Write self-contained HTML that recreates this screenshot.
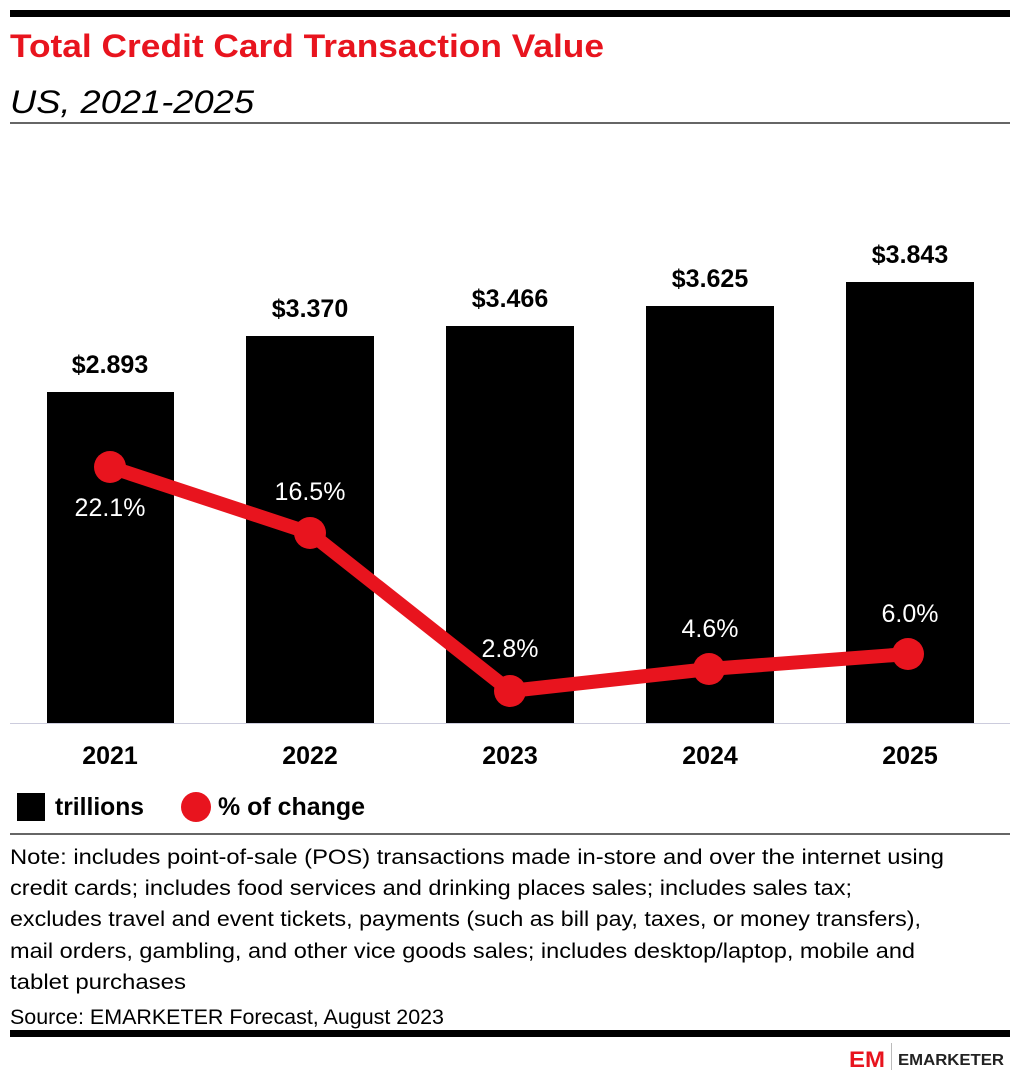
<!DOCTYPE html>
<html><head><meta charset="utf-8"><style>
body{margin:0;background:#fff;width:1020px;height:1080px;overflow:hidden;font-family:"Liberation Sans",sans-serif}
</style></head><body>
<svg width="1020" height="1080" viewBox="0 0 1020 1080" xmlns="http://www.w3.org/2000/svg" font-family="Liberation Sans, sans-serif">
<rect x="10" y="10" width="1000" height="7" fill="#000"/>
<text x="10" y="57" font-size="32" font-weight="bold" fill="#e8141e" textLength="594" lengthAdjust="spacingAndGlyphs">Total Credit Card Transaction Value</text>
<text x="10" y="113" font-size="32" font-style="italic" fill="#000" textLength="244" lengthAdjust="spacingAndGlyphs">US, 2021-2025</text>
<rect x="10" y="122" width="1000" height="2" fill="#666"/>
<g fill="#000">
<rect x="47" y="392" width="127" height="332"/>
<rect x="246" y="336" width="128" height="388"/>
<rect x="446" y="326" width="128" height="398"/>
<rect x="646" y="306" width="128" height="418"/>
<rect x="846" y="282" width="128" height="442"/>
</g>
<rect x="10" y="723" width="1000" height="1" fill="#ccd"/>
<g font-size="25" font-weight="bold" text-anchor="middle" fill="#000">
<text x="110" y="373">$2.893</text>
<text x="310" y="317">$3.370</text>
<text x="510" y="307">$3.466</text>
<text x="710" y="287">$3.625</text>
<text x="910" y="263">$3.843</text>
<text x="110" y="764">2021</text>
<text x="310" y="764">2022</text>
<text x="510" y="764">2023</text>
<text x="710" y="764">2024</text>
<text x="910" y="764">2025</text>
</g>
<polyline points="110,467 310,533 510,691 709,669 908,654" fill="none" stroke="#e8141e" stroke-width="14" stroke-linejoin="round"/>
<g fill="#e8141e">
<circle cx="110" cy="467" r="16"/><circle cx="310" cy="533" r="16"/><circle cx="510" cy="691" r="16"/><circle cx="709" cy="669" r="16"/><circle cx="908" cy="654" r="16"/>
</g>
<g font-size="25" text-anchor="middle">
<text x="110" y="516" fill="#fff">22.1%</text>
<text x="310" y="500" fill="#fff">16.5%</text>
<text x="510" y="657" fill="#fff">2.8%</text>
<text x="710" y="637" fill="#fff">4.6%</text>
<text x="910" y="622" fill="#fff">6.0%</text>
</g>
<rect x="17" y="793" width="28" height="28" fill="#000"/>
<text x="55" y="815" font-size="25" font-weight="bold" textLength="89" lengthAdjust="spacingAndGlyphs">trillions</text>
<circle cx="196" cy="807" r="15" fill="#e8141e"/>
<text x="218" y="815" font-size="25" font-weight="bold" textLength="147" lengthAdjust="spacingAndGlyphs">% of change</text>
<rect x="10" y="833" width="1000" height="2" fill="#666"/>
<g font-size="21" fill="#000" lengthAdjust="spacingAndGlyphs">
<text x="10" y="864" textLength="934" lengthAdjust="spacingAndGlyphs">Note: includes point-of-sale (POS) transactions made in-store and over the internet using</text>
<text x="10" y="895" textLength="842" lengthAdjust="spacingAndGlyphs">credit cards; includes food services and drinking places sales; includes sales tax;</text>
<text x="10" y="926" textLength="911" lengthAdjust="spacingAndGlyphs">excludes travel and event tickets, payments (such as bill pay, taxes, or money transfers),</text>
<text x="10" y="958" textLength="905" lengthAdjust="spacingAndGlyphs">mail orders, gambling, and other vice goods sales; includes desktop/laptop, mobile and</text>
<text x="10" y="989" textLength="176" lengthAdjust="spacingAndGlyphs">tablet purchases</text>
<text x="10" y="1024" textLength="434" lengthAdjust="spacingAndGlyphs">Source: EMARKETER Forecast, August 2023</text>
</g>
<rect x="10" y="1030" width="1000" height="7" fill="#000"/>
<text x="849" y="1067" font-size="22" font-weight="bold" fill="#e8141e" textLength="36" lengthAdjust="spacingAndGlyphs">EM</text>
<rect x="891" y="1043" width="1" height="27" fill="#bbb"/>
<text x="898" y="1065" font-size="16" font-weight="bold" fill="#222" textLength="106" lengthAdjust="spacingAndGlyphs">EMARKETER</text>
</svg>
</body></html>
